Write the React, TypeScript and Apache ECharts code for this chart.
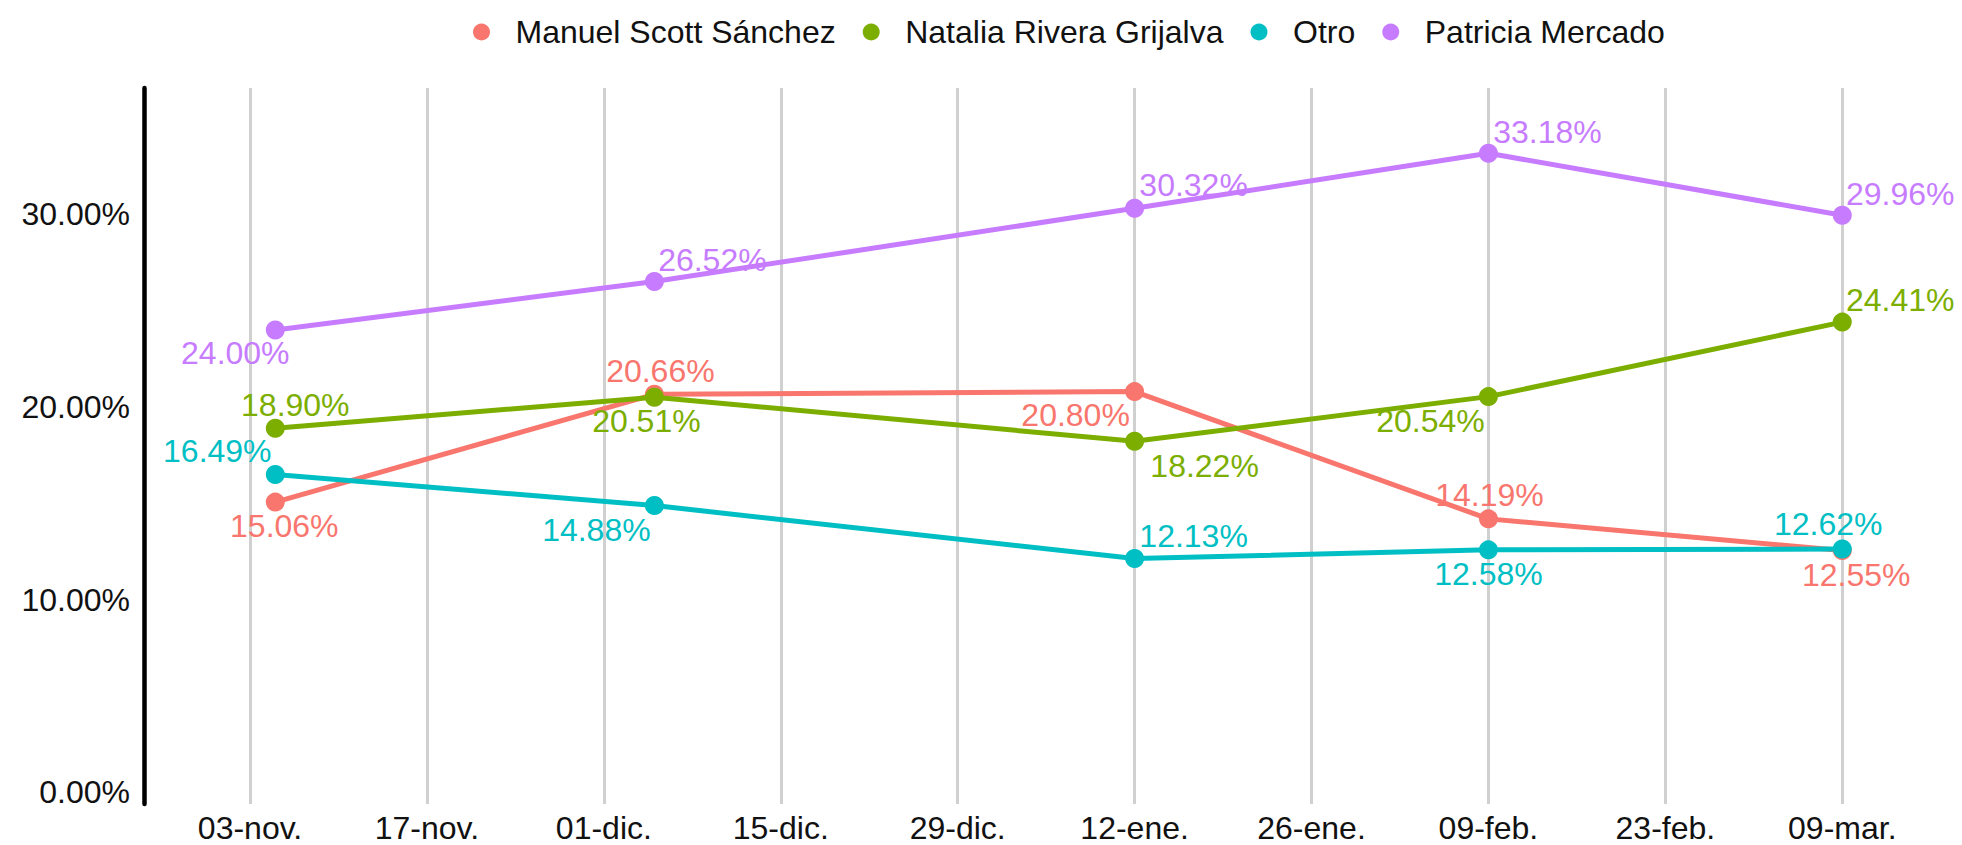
import React, { useEffect, useRef } from 'react';
import * as echarts from 'echarts';

// ---- Data ----
const dates = ['2024-11-05', '2024-12-05', '2025-01-12', '2025-02-09', '2025-03-09'];
const manuel = [15.06, 20.66, 20.8, 14.19, 12.55];
const natalia = [18.9, 20.51, 18.22, 20.54, 24.41];
const otro = [16.49, 14.88, 12.13, 12.58, 12.62];
const patricia = [24.0, 26.52, 30.32, 33.18, 29.96];
const seriesNames = ['Manuel Scott Sánchez', 'Natalia Rivera Grijalva', 'Otro', 'Patricia Mercado'];
const xTickDates = [
  '2024-11-03', '2024-11-17', '2024-12-01', '2024-12-15', '2024-12-29',
  '2025-01-12', '2025-01-26', '2025-02-09', '2025-02-23', '2025-03-09',
];
const yTicks = [0, 10, 20, 30];
const monthAbbr = ['ene.', 'feb.', 'mar.', 'abr.', 'may.', 'jun.', 'jul.', 'ago.', 'sept.', 'oct.', 'nov.', 'dic.'];

// ---- Styles (label placement, colours) ----
const colors = ['#F8766D', '#7CAE00', '#00BFC4', '#C77CFF'];
const manuelLabelOffsets = [[9, 24], [6, -23], [-59, 23], [1, -24], [14, 25]];
const nataliaLabelOffsets = [[20, -23], [-8, 24], [70, 25], [-58, 24], [58, -22]];
const otroLabelOffsets = [[-58, -24], [-58, 24], [59, -23], [0, 24], [-14, -25]];
const patriciaLabelOffsets = [[-40, 23], [58, -21], [59, -23], [59, -21], [58, -21]];

const FONT = '"Liberation Sans", Arial, Helvetica, sans-serif';
const FS = 32;
const DAY = 86400000;
const toMs = (s: string) => {
  const [y, m, d] = s.split('-').map(Number);
  return Date.UTC(y, m - 1, d);
};
const pad = (n: number) => (n < 10 ? '0' + n : '' + n);

export default function App() {
  const ref = useRef<HTMLDivElement>(null);
  useEffect(() => {
    document.body.style.margin = '0';
    const chart = echarts.init(ref.current!, null, { renderer: 'svg' });
    const valueSets = [manuel, natalia, otro, patricia];
    const offsetSets = [manuelLabelOffsets, nataliaLabelOffsets, otroLabelOffsets, patriciaLabelOffsets];
    const base = toMs(xTickDates[0]);
    const series = seriesNames.map((name, si) => ({
      name,
      type: 'line',
      symbol: 'circle',
      symbolSize: 19,
      showAllSymbol: true,
      itemStyle: { color: colors[si] },
      lineStyle: { color: colors[si], width: 5 },
      label: {
        show: true,
        position: 'inside',
        color: colors[si],
        fontSize: FS,
        fontFamily: FONT,
        formatter: (p: any) => p.value[1].toFixed(2) + '%',
      },
      emphasis: { disabled: true },
      data: valueSets[si].map((v, i) => ({
        value: [toMs(dates[i]), v],
        label: { offset: offsetSets[si][i] },
      })),
    }));

    chart.setOption({
      animation: false,
      backgroundColor: '#fff',
      textStyle: { fontFamily: FONT },
      grid: { left: 144, right: 6, top: 88, bottom: 41, containLabel: false },
      legend: {
        data: seriesNames,
        icon: 'circle',
        top: 11,
        left: 468,
        itemWidth: 58,
        itemHeight: 17,
        itemGap: 27,
        textStyle: { fontSize: FS, color: '#111', fontFamily: FONT, lineHeight: 32 },
      },
      xAxis: {
        type: 'value',
        min: base - 8.39 * DAY,
        max: base + 135 * DAY,
        axisLine: { show: false },
        axisTick: { show: false, customValues: xTickDates.map(toMs) },
        axisLabel: {
          customValues: xTickDates.map(toMs),
          fontSize: FS,
          lineHeight: 32,
          color: '#111',
          fontFamily: FONT,
          margin: 8,
          formatter: (v: number) => {
            const d = new Date(v);
            return pad(d.getUTCDate()) + '-' + monthAbbr[d.getUTCMonth()];
          },
        },
        splitLine: { show: true, lineStyle: { color: '#d0d0d0', width: 3 } },
      },
      yAxis: {
        type: 'value',
        min: -0.62,
        max: 36.57,
        axisLine: { show: true, lineStyle: { color: '#000', width: 4.5 } },
        axisTick: { show: false, customValues: yTicks },
        axisLabel: {
          customValues: yTicks,
          fontSize: FS,
          color: '#111',
          fontFamily: FONT,
          margin: 14,
          formatter: (v: number) => v.toFixed(2) + '%',
        },
        splitLine: { show: false },
      },
      series,
    });
    return () => chart.dispose();
  }, []);
  return <div ref={ref} style={{ width: 1962, height: 845 }} />;
}
